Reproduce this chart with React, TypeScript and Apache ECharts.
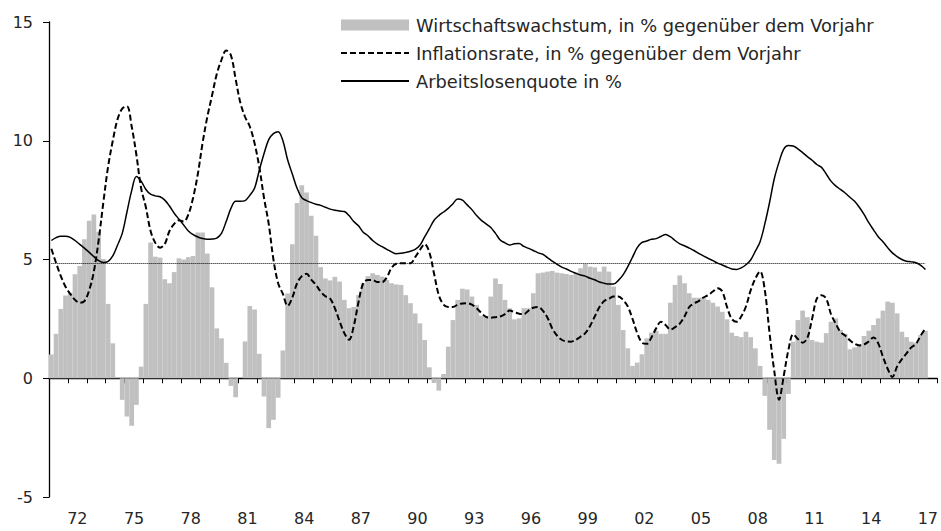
import React, { useEffect, useRef } from "react";
import * as echarts from "echarts";

const yearLabels = [
  "71", "72", "73", "74", "75", "76", "77", "78", "79", "80",
  "81", "82", "83", "84", "85", "86", "87", "88", "89", "90",
  "91", "92", "93", "94", "95", "96", "97", "98", "99", "00",
  "01", "02", "03", "04", "05", "06", "07", "08", "09", "10",
  "11", "12", "13", "14", "15", "16", "17",
];
const quarterNames = ["Q1", "Q2", "Q3", "Q4"];

// Wirtschaftswachstum (quarterly, 1971 Q1 - 2017 Q2)
const gdpGrowth = [
  1.0, 1.87, 2.92, 3.48,
  3.6, 4.38, 4.73, 5.85,
  6.63, 6.9, 6.17, 5.02,
  3.13, 1.47, 0.05, -0.91,
  -1.61, -2.0, -1.12, 0.49,
  3.13, 5.72, 5.12, 5.08,
  4.17, 4.0, 4.47, 5.05,
  5.0, 5.1, 5.15, 6.14,
  6.14, 5.25, 3.83, 2.1,
  1.68, 0.65, -0.32, -0.8,
  0.0, 1.55, 3.04, 2.9,
  1.03, -0.77, -2.1, -1.75,
  -0.82, 1.17, 3.57, 5.64,
  7.38, 8.13, 7.82, 6.84,
  6.0, 4.68, 4.2, 4.12,
  4.27, 4.07, 3.3, 2.95,
  3.0, 3.5, 4.0, 4.3,
  4.42, 4.35, 4.28, 4.14,
  4.0, 3.95, 3.93, 3.5,
  3.16, 2.73, 2.31, 1.61,
  0.46, -0.2, -0.52, 0.18,
  1.33, 2.45, 3.3, 3.77,
  3.74, 3.44, 3.09, 2.63,
  2.6, 3.44, 4.2, 3.97,
  3.3, 2.95, 2.48, 2.52,
  2.95, 2.95, 3.58, 4.42,
  4.45, 4.49, 4.52, 4.45,
  4.42, 4.39, 4.35, 4.45,
  4.63, 4.81, 4.7, 4.67,
  4.49, 4.7, 4.49, 3.86,
  3.09, 2.03, 1.26, 0.52,
  0.66, 1.01, 1.68, 1.92,
  2.0, 1.87, 1.87, 3.18,
  3.93, 4.33, 4.0, 3.58,
  3.39, 3.39, 3.39, 3.3,
  3.18, 3.02, 2.8, 2.48,
  1.92, 1.78, 1.73, 1.96,
  1.73, 1.26, 0.52, -0.74,
  -2.17, -3.44, -3.6, -2.55,
  -0.66, 1.54, 2.45, 2.85,
  2.57, 1.61, 1.54, 1.5,
  1.9, 2.38, 2.52, 2.03,
  1.87, 1.22, 1.3, 1.44,
  1.78, 2.0, 2.24, 2.52,
  2.85, 3.23, 3.18, 2.73,
  1.96, 1.73, 1.54, 1.5,
  1.82, 2.0,
];

// Inflationsrate
const inflation = [
  5.45, 4.85, 4.3, 3.85,
  3.55, 3.3, 3.18, 3.25,
  3.7, 4.5, 5.8, 7.4,
  8.9, 10.0, 10.9, 11.35,
  11.45, 10.6, 9.4, 8.0,
  7.2, 6.2, 5.7, 5.5,
  5.65, 6.2, 6.5, 6.65,
  6.6, 6.9, 7.6, 8.6,
  9.9, 11.0, 11.9, 12.8,
  13.4, 13.8, 13.6, 12.6,
  11.6, 11.0, 10.6, 9.9,
  8.9, 7.6, 6.5, 5.0,
  4.0, 3.55, 3.05, 3.4,
  4.0, 4.3, 4.4, 4.15,
  3.93, 3.65, 3.45, 3.35,
  2.95, 2.4, 1.9, 1.62,
  2.2, 3.2, 4.0, 4.14,
  4.14, 4.05, 4.05, 4.25,
  4.65, 4.82, 4.84, 4.84,
  4.84, 5.1, 5.4, 5.65,
  5.3, 4.4, 3.5, 3.1,
  3.0, 3.0, 3.1, 3.15,
  3.16, 3.1, 2.95, 2.75,
  2.58, 2.55, 2.57, 2.6,
  2.7, 2.85, 2.78, 2.72,
  2.7, 2.85, 2.97, 3.0,
  2.85, 2.55, 2.1, 1.8,
  1.62, 1.55, 1.54, 1.62,
  1.75, 1.9, 2.2, 2.6,
  3.0, 3.25, 3.35, 3.44,
  3.44, 3.3, 3.02, 2.5,
  1.9, 1.5, 1.45, 1.72,
  2.1, 2.38, 2.24, 2.05,
  2.15, 2.3, 2.6, 3.0,
  3.15, 3.25, 3.4, 3.5,
  3.65, 3.79, 3.65, 3.0,
  2.5, 2.38, 2.6, 3.02,
  3.7, 4.2, 4.5, 3.7,
  1.9, 0.3, -0.9, 0.1,
  1.2, 1.85, 1.65, 1.5,
  1.7, 2.5, 3.35, 3.5,
  3.35, 2.7, 2.3, 1.95,
  1.8, 1.6, 1.45, 1.38,
  1.42, 1.55, 1.72, 1.47,
  0.9, 0.4, 0.05, 0.5,
  0.8, 1.05, 1.3, 1.45,
  1.8, 2.1,
];

// Arbeitslosenquote
const unemployment = [
  5.8, 5.92, 5.98, 5.98,
  5.93, 5.8, 5.64, 5.48,
  5.3, 5.12, 4.95, 4.87,
  4.92, 5.15, 5.6, 6.1,
  7.0, 7.9, 8.5, 8.3,
  7.95, 7.75, 7.68, 7.64,
  7.5, 7.25, 6.95, 6.7,
  6.45, 6.2, 6.05, 5.95,
  5.88, 5.85, 5.86, 5.9,
  6.1, 6.6, 7.15, 7.45,
  7.45, 7.48, 7.7, 8.0,
  8.75, 9.45, 10.05, 10.3,
  10.38, 10.0, 9.2, 8.6,
  8.0, 7.6, 7.48, 7.4,
  7.33, 7.28, 7.2, 7.12,
  7.07, 7.04, 7.02, 6.85,
  6.6, 6.42, 6.15, 6.0,
  5.8, 5.65, 5.54, 5.43,
  5.32, 5.24, 5.26, 5.3,
  5.35, 5.43, 5.6, 5.95,
  6.3, 6.65, 6.85, 7.0,
  7.15, 7.35, 7.55, 7.5,
  7.3, 7.1, 6.85, 6.65,
  6.5, 6.35, 6.1, 5.82,
  5.7, 5.61, 5.66, 5.67,
  5.55, 5.47, 5.38, 5.28,
  5.22, 5.08, 4.93, 4.8,
  4.68, 4.6, 4.5, 4.42,
  4.35, 4.3, 4.21, 4.15,
  4.05, 4.0, 3.97, 3.97,
  4.12, 4.35, 4.7, 5.1,
  5.5, 5.72, 5.78, 5.85,
  5.88, 5.97, 6.05, 5.96,
  5.8, 5.66, 5.58, 5.48,
  5.38, 5.26, 5.15, 5.05,
  4.95, 4.85, 4.77, 4.68,
  4.6, 4.58, 4.65, 4.78,
  4.98, 5.35, 5.75, 6.5,
  7.4, 8.4, 9.1, 9.65,
  9.8, 9.78, 9.66, 9.5,
  9.33, 9.18, 9.0, 8.88,
  8.6, 8.3, 8.1, 7.95,
  7.8, 7.62, 7.45, 7.2,
  6.9, 6.55, 6.25, 5.96,
  5.75, 5.5, 5.28, 5.12,
  5.0, 4.93, 4.9, 4.86,
  4.75, 4.58,
];

const referenceLevel = 4.86;
const yTicks = { min: -5, max: 15, step: 5 };

const seriesNames = [
  "Wirtschaftswachstum, in % gegenüber dem Vorjahr",
  "Inflationsrate, in % gegenüber dem Vorjahr",
  "Arbeitslosenquote in %",
];

const FONT = "DejaVu Sans";
const TEXT = "#262626";

export default function App() {
  const ref = useRef<HTMLDivElement>(null);

  useEffect(() => {
    if (!ref.current) return;
    const chart = echarts.init(ref.current, undefined, { renderer: "svg" });

    const quarters: string[] = [];
    yearLabels.forEach((y) => quarterNames.forEach((q) => quarters.push(y + q)));

    const hiddenSymbol = {
      opacity: 0,
      color: "transparent",
      borderColor: "transparent",
      borderWidth: 0,
    };

    chart.setOption({
      animation: false,
      backgroundColor: "#ffffff",
      textStyle: { fontFamily: FONT },
      grid: { left: 49, right: 2, top: 22, bottom: 34, containLabel: false },
      legend: {
        show: true,
        orient: "vertical",
        left: 340,
        top: 15,
        padding: 0,
        itemWidth: 68,
        itemHeight: 11,
        itemGap: 8,
        data: [
          { name: seriesNames[0], icon: "rect" },
          { name: seriesNames[1], itemStyle: hiddenSymbol },
          { name: seriesNames[2], itemStyle: hiddenSymbol },
        ],
        textStyle: {
          fontFamily: FONT,
          fontSize: 17.8,
          color: TEXT,
          lineHeight: 20,
          padding: [0, 0, 0, 2],
        },
        selectedMode: false,
      },
      xAxis: [
        {
          type: "category",
          data: quarters,
          position: "top",
          boundaryGap: true,
          axisLine: { show: true, onZero: true, lineStyle: { color: "#000", width: 1.3 } },
          axisTick: {
            show: true,
            inside: true,
            length: 5,
            interval: (i: number) => i % 4 === 0,
            lineStyle: { color: "#000", width: 1 },
          },
          axisLabel: { show: false },
          splitLine: { show: false },
        },
        {
          type: "category",
          data: yearLabels,
          position: "bottom",
          boundaryGap: true,
          axisLine: { show: false, onZero: false },
          axisTick: { show: false },
          axisLabel: {
            show: true,
            interval: (i: number) => i % 3 === 1,
            fontFamily: FONT,
            fontSize: 16,
            color: TEXT,
            margin: 13,
          },
          splitLine: { show: false },
        },
      ],
      yAxis: {
        type: "value",
        min: yTicks.min,
        max: yTicks.max,
        interval: yTicks.step,
        axisLine: { show: true, lineStyle: { color: "#000", width: 1.3 } },
        axisTick: { show: true, length: 6, lineStyle: { color: "#000" } },
        axisLabel: { fontFamily: FONT, fontSize: 16, color: TEXT, margin: 16 },
        splitLine: { show: false },
      },
      series: [
        {
          name: seriesNames[0],
          type: "bar",
          xAxisIndex: 0,
          data: gdpGrowth,
          barCategoryGap: "0%",
          itemStyle: { color: "#c0c0c0" },
          z: 1,
        },
        {
          name: seriesNames[1],
          type: "line",
          xAxisIndex: 0,
          data: inflation,
          smooth: 0.35,
          symbol: "none",
          lineStyle: { color: "#000", width: 2, type: [6, 3] },
          itemStyle: { color: "#000" },
          z: 3,
        },
        {
          name: seriesNames[2],
          type: "line",
          xAxisIndex: 0,
          data: unemployment,
          smooth: 0.35,
          symbol: "none",
          lineStyle: { color: "#000", width: 1.5 },
          itemStyle: { color: "#000" },
          z: 4,
          markLine: {
            silent: true,
            symbol: ["none", "none"],
            label: { show: false },
            lineStyle: { color: "#000", width: 1, type: [1, 1] },
            data: [
              [
                { coord: [quarters[0], referenceLevel] },
                { coord: [quarters[unemployment.length - 1], referenceLevel] },
              ],
            ],
          },
        },
      ],
    });

    return () => chart.dispose();
  }, []);

  return (
    <div
      ref={ref}
      style={{ position: "absolute", left: 0, top: 0, width: 941, height: 531 }}
    />
  );
}
